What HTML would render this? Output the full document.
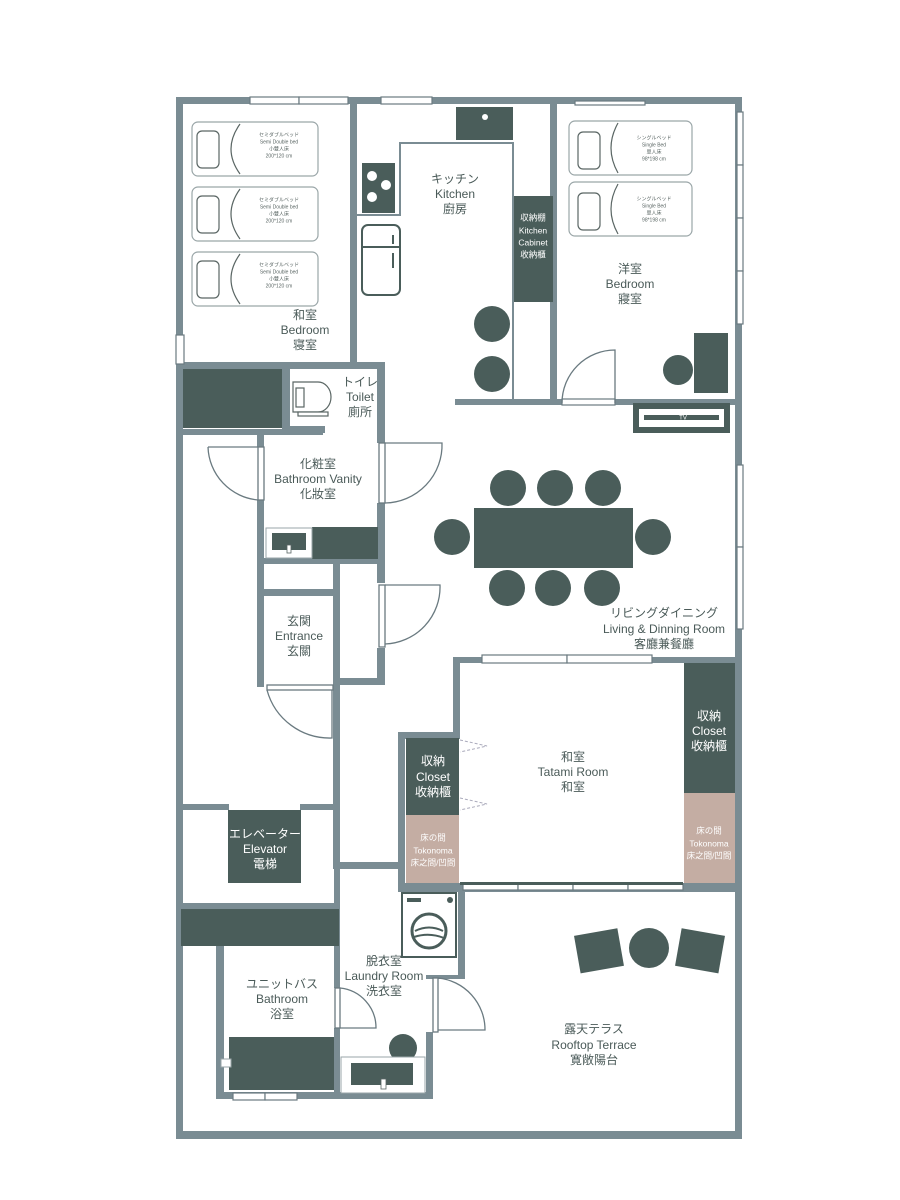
<!DOCTYPE html>
<html><head><meta charset="utf-8"><style>
html,body{margin:0;padding:0;background:#fff;}
svg{display:block;}
text{font-family:"Liberation Sans","Noto Sans CJK JP",sans-serif;text-anchor:middle;dominant-baseline:middle;}
.l{fill:#4a5a58;font-size:12px;}
.w{fill:#fff;font-size:10px;}
.s{fill:#fff;font-size:8.5px;}
.b{fill:#5a6664;font-size:5px;}
</style></head><body>
<svg width="900" height="1200" viewBox="0 0 900 1200" xmlns="http://www.w3.org/2000/svg">
<g fill="#7a8c93">
<rect x="176" y="97" width="566" height="7"/>
<rect x="176" y="97" width="7" height="1042"/>
<rect x="735" y="97" width="7" height="1042"/>
<rect x="176" y="1131" width="566" height="8"/>
<rect x="350" y="97" width="7" height="272"/>
<rect x="176" y="362" width="209" height="7"/>
<rect x="282" y="362" width="8" height="71"/>
<rect x="377" y="362" width="8" height="81"/>
<rect x="290" y="426" width="35" height="7"/>
<rect x="176" y="429" width="147" height="6"/>
<rect x="257" y="430" width="7" height="17"/>
<rect x="257" y="500" width="7" height="187"/>
<rect x="377" y="503" width="8" height="80"/>
<rect x="377" y="648" width="8" height="37"/>
<rect x="257" y="558" width="128" height="6"/>
<rect x="264" y="589" width="70" height="7"/>
<rect x="333" y="563" width="7" height="306"/>
<rect x="333" y="678" width="52" height="7"/>
<rect x="183" y="804" width="46" height="6"/>
<rect x="300" y="804" width="36" height="6"/>
<rect x="340" y="862" width="65" height="7"/>
<rect x="183" y="903" width="156" height="7"/>
<rect x="216" y="946" width="8" height="153"/>
<rect x="216" y="1092" width="217" height="7"/>
<rect x="334" y="862" width="6" height="126"/>
<rect x="334" y="1028" width="6" height="70"/>
<rect x="426" y="975" width="7" height="3"/>
<rect x="426" y="1032" width="7" height="67"/>
<rect x="426" y="975" width="39" height="4"/>
<rect x="458" y="888" width="7" height="90"/>
<rect x="398" y="732" width="7" height="160"/>
<rect x="398" y="732" width="62" height="7"/>
<rect x="453" y="657" width="7" height="80"/>
<rect x="453" y="657" width="289" height="6"/>
<rect x="398" y="883" width="344" height="9"/>
<rect x="455" y="399" width="107" height="6"/>
<rect x="615" y="399" width="120" height="6"/>
<rect x="550" y="97" width="7" height="308"/>
</g>
<g fill="#fff" stroke="#6a7a80" stroke-width="1.2">
<rect x="250" y="97" width="49" height="7"/><rect x="299" y="97" width="49" height="7"/>
<rect x="381" y="97" width="51" height="7"/>
<rect x="575" y="101" width="70" height="4"/>
<rect x="737" y="112" width="6" height="53"/><rect x="737" y="165" width="6" height="53"/><rect x="737" y="218" width="6" height="53"/><rect x="737" y="271" width="6" height="53"/>
<rect x="737" y="465" width="6" height="82"/><rect x="737" y="547" width="6" height="82"/>
<rect x="176" y="335" width="8" height="29"/>
<rect x="482" y="655" width="85" height="8"/><rect x="567" y="655" width="85" height="8"/>
<rect x="463" y="884" width="55" height="6"/><rect x="518" y="884" width="55" height="6"/><rect x="573" y="884" width="55" height="6"/><rect x="628" y="884" width="55" height="6"/>
<rect x="233" y="1093" width="32" height="7"/><rect x="265" y="1093" width="32" height="7"/>
<rect x="562" y="399" width="53" height="6"/>
</g>
<rect x="460" y="882" width="223" height="3" fill="#4a5d5a"/>
<g fill="none" stroke="#6a7a80" stroke-width="1.3">
<rect x="258" y="447" width="6" height="53" fill="#fff"/>
<path d="M208 447 H258 M208 447 A55 55 0 0 0 258 500"/>
<rect x="379" y="443" width="6" height="60" fill="#fff"/>
<path d="M385 443 H442 A58 58 0 0 1 385 503"/>
<rect x="379" y="585" width="6" height="62" fill="#fff"/>
<path d="M385 585 H440 A57 57 0 0 1 385 644"/>
<rect x="267" y="685" width="66" height="5" fill="#fff"/>
<path d="M267 690 A65 65 0 0 0 332 738 V690"/>
<path d="M615 403 V350 A53 53 0 0 0 562 403"/>
<rect x="335" y="988" width="5" height="40" fill="#fff"/>
<path d="M340 988 A40 40 0 0 1 376 1028 H340"/>
<rect x="433" y="978" width="5" height="54" fill="#fff"/>
<path d="M438 978 A52 52 0 0 1 485 1030 H438"/>
</g>
<g fill="#4a5d5a">
<rect x="183" y="369" width="99" height="59"/>
<rect x="456" y="107" width="57" height="33"/>
<rect x="362" y="163" width="33" height="50"/>
<rect x="513" y="196" width="40" height="106"/>
<circle cx="492" cy="324" r="18"/><circle cx="492" cy="374" r="18"/>
<rect x="694" y="333" width="34" height="60"/>
<circle cx="678" cy="370" r="15"/>
<rect x="312" y="527" width="66" height="32"/>
<rect x="474" y="508" width="159" height="60"/>
<circle cx="508" cy="488" r="18"/><circle cx="555" cy="488" r="18"/><circle cx="603" cy="488" r="18"/>
<circle cx="507" cy="588" r="18"/><circle cx="553" cy="588" r="18"/><circle cx="602" cy="588" r="18"/>
<circle cx="452" cy="537" r="18"/><circle cx="653" cy="537" r="18"/>
<rect x="633" y="403" width="97" height="30"/>
<rect x="406" y="738" width="53" height="77"/>
<rect x="684" y="663" width="51" height="130"/>
<rect x="228" y="810" width="73" height="73"/>
<rect x="181" y="909" width="158" height="37"/>
<rect x="229" y="1037" width="105" height="53"/>
<circle cx="403" cy="1048" r="14"/>
<rect x="577" y="932" width="44" height="38" transform="rotate(-10 598 951)"/>
<rect x="678" y="932" width="44" height="38" transform="rotate(10 701 951)"/>
<circle cx="649" cy="948" r="20"/>
</g>
<rect x="639" y="409" width="85" height="18" fill="#fff"/>
<rect x="644" y="415" width="75" height="5" fill="#4a5d5a"/>
<text x="683" y="418" style="font-size:6px;fill:#fff">TV</text>
<circle cx="485" cy="117" r="3" fill="#fff"/>
<g fill="#fff"><circle cx="372" cy="176" r="5"/><circle cx="386" cy="185" r="5"/><circle cx="372" cy="197" r="5"/></g>
<g fill="#c4ada3"><rect x="406" y="815" width="53" height="68"/><rect x="684" y="793" width="51" height="90"/></g>
<path d="M357 215 H400 V143 H513 V400" fill="none" stroke="#7a8c93" stroke-width="2"/>
<g fill="none" stroke="#4a5d5a" stroke-width="2">
<rect x="362" y="225" width="38" height="70" rx="6"/>
<path d="M362 247 H400"/>
<path d="M393 235 V244 M393 253 V268"/>
</g>
<g fill="#fff" stroke="#9aa6a8" stroke-width="1.2">
<rect x="192" y="122" width="126" height="54" rx="6"/><rect x="192" y="187" width="126" height="54" rx="6"/><rect x="192" y="252" width="126" height="54" rx="6"/>
<rect x="569" y="121" width="123" height="54" rx="6"/><rect x="569" y="182" width="123" height="54" rx="6"/>
</g>
<g fill="none" stroke="#5a6664" stroke-width="1.2">
<rect x="197" y="131" width="22" height="37" rx="5"/><path d="M240 124 Q222 149 240 174"/>
<rect x="197" y="196" width="22" height="37" rx="5"/><path d="M240 189 Q222 214 240 239"/>
<rect x="197" y="261" width="22" height="37" rx="5"/><path d="M240 254 Q222 279 240 304"/>
<rect x="578" y="132" width="22" height="37" rx="5"/><path d="M618 123 Q604 148 618 173"/>
<rect x="578" y="193" width="22" height="37" rx="5"/><path d="M618 184 Q604 209 618 234"/>
</g>
<g class="b">
<text x="279" y="135" class="b">セミダブルベッド</text><text x="279" y="142" class="b">Semi Double bed</text><text x="279" y="149" class="b">小雙人床</text><text x="279" y="156" class="b">200*120 cm</text>
<text x="279" y="200" class="b">セミダブルベッド</text><text x="279" y="207" class="b">Semi Double bed</text><text x="279" y="214" class="b">小雙人床</text><text x="279" y="221" class="b">200*120 cm</text>
<text x="279" y="265" class="b">セミダブルベッド</text><text x="279" y="272" class="b">Semi Double bed</text><text x="279" y="279" class="b">小雙人床</text><text x="279" y="286" class="b">200*120 cm</text>
<text x="654" y="138" class="b">シングルベッド</text><text x="654" y="145" class="b">Single Bed</text><text x="654" y="152" class="b">單人床</text><text x="654" y="159" class="b">98*198 cm</text>
<text x="654" y="199" class="b">シングルベッド</text><text x="654" y="206" class="b">Single Bed</text><text x="654" y="213" class="b">單人床</text><text x="654" y="220" class="b">98*198 cm</text>
</g>
<g fill="#fff" stroke="#5a6664" stroke-width="1.2">
<path d="M293 382 H318 A13 15 0 0 1 318 412 H293 Z"/>
<rect x="296" y="388" width="8" height="19"/>
<rect x="298" y="412" width="30" height="4"/>
</g>
<rect x="266" y="528" width="46" height="30" fill="#fff" stroke="#9aa6a8"/>
<rect x="272" y="533" width="34" height="17" fill="#4a5d5a"/>
<rect x="287" y="545" width="4" height="8" fill="#fff" stroke="#5a6664" stroke-width="0.8"/>
<rect x="402" y="893" width="54" height="64" fill="#fff" stroke="#4a5d5a" stroke-width="2"/>
<rect x="407" y="898" width="14" height="4" fill="#4a5d5a"/>
<circle cx="450" cy="900" r="3" fill="#4a5d5a"/>
<circle cx="429" cy="931" r="17" fill="none" stroke="#4a5d5a" stroke-width="3"/>
<path d="M415 931 Q429 924 443 931 M414 937 Q429 932 444 938" stroke="#4a5d5a" stroke-width="2" fill="none"/>
<rect x="341" y="1057" width="84" height="36" fill="#fff" stroke="#9aa6a8"/>
<rect x="351" y="1063" width="62" height="22" fill="#4a5d5a"/>
<rect x="381" y="1079" width="5" height="10" fill="#fff" stroke="#5a6664" stroke-width="0.8"/>
<rect x="221" y="1059" width="10" height="8" fill="#fff" stroke="#9aa6a8"/>
<g stroke="#aab" stroke-width="1" stroke-dasharray="3 2" fill="none">
<path d="M460 740 L487 746 L460 752"/><path d="M460 798 L487 804 L460 810"/>
</g>
<text class="l" x="305" y="316">和室</text><text class="l" x="305" y="331">Bedroom</text><text class="l" x="305" y="346">寝室</text>
<text class="l" x="455" y="180">キッチン</text><text class="l" x="455" y="195">Kitchen</text><text class="l" x="455" y="210">廚房</text>
<text class="s" x="533" y="218">収納棚</text><text class="s" x="533" y="231">Kitchen</text><text class="s" x="533" y="243">Cabinet</text><text class="s" x="533" y="255">收納櫃</text>
<text class="l" x="630" y="270">洋室</text><text class="l" x="630" y="285">Bedroom</text><text class="l" x="630" y="300">寢室</text>
<text class="l" x="360" y="383">トイレ</text><text class="l" x="360" y="398">Toilet</text><text class="l" x="360" y="413">廁所</text>
<text class="l" x="318" y="465">化粧室</text><text class="l" x="318" y="480">Bathroom Vanity</text><text class="l" x="318" y="495">化妝室</text>
<text class="l" x="299" y="622">玄関</text><text class="l" x="299" y="637">Entrance</text><text class="l" x="299" y="652">玄關</text>
<text class="l" x="664" y="614">リビングダイニング</text><text class="l" x="664" y="630">Living &amp; Dinning Room</text><text class="l" x="664" y="645">客廳兼餐廳</text>
<text class="l" x="573" y="758">和室</text><text class="l" x="573" y="773">Tatami Room</text><text class="l" x="573" y="788">和室</text>
<text class="w" x="433" y="762" style="font-size:12px">収納</text><text class="w" x="433" y="778" style="font-size:12px">Closet</text><text class="w" x="433" y="793" style="font-size:12px">收納櫃</text>
<text class="w" x="709" y="717" style="font-size:12px">収納</text><text class="w" x="709" y="732" style="font-size:12px">Closet</text><text class="w" x="709" y="747" style="font-size:12px">收納櫃</text>
<text class="s" x="433" y="838">床の間</text><text class="s" x="433" y="851">Tokonoma</text><text class="s" x="433" y="863">床之間/凹間</text>
<text class="s" x="709" y="831">床の間</text><text class="s" x="709" y="844">Tokonoma</text><text class="s" x="709" y="856">床之間/凹間</text>
<text class="w" x="265" y="835" style="font-size:12px">エレベーター</text><text class="w" x="265" y="850" style="font-size:12px">Elevator</text><text class="w" x="265" y="865" style="font-size:12px">電梯</text>
<text class="l" x="282" y="985">ユニットバス</text><text class="l" x="282" y="1000">Bathroom</text><text class="l" x="282" y="1015">浴室</text>
<text class="l" x="384" y="962">脫衣室</text><text class="l" x="384" y="977">Laundry Room</text><text class="l" x="384" y="992">洗衣室</text>
<text class="l" x="594" y="1030">露天テラス</text><text class="l" x="594" y="1046">Rooftop Terrace</text><text class="l" x="594" y="1061">寛敞陽台</text>
</svg>
</body></html>
